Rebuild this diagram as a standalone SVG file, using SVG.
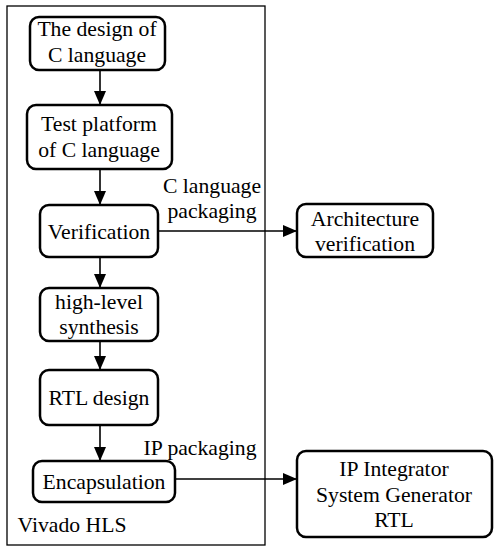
<svg xmlns="http://www.w3.org/2000/svg" width="497" height="550" viewBox="0 0 497 550">
<style>
.n{fill:#fff;stroke:#000;stroke-width:2.5}
text{font-family:'Liberation Serif','Times New Roman','DejaVu Serif',serif;font-size:21.7px;fill:#000;text-anchor:middle}
.c{fill:none;stroke:#000;stroke-width:1.6}
</style>
<defs>
<marker id="ah" markerWidth="14" markerHeight="12" refX="14" refY="6" orient="auto" markerUnits="userSpaceOnUse">
<path d="M0,0 L14,6 L0,12 Z" fill="#000"/>
</marker>
</defs>
<rect width="497" height="550" fill="#fff"/>
<g id="container">
<rect x="7" y="6" width="258" height="539" fill="none" stroke="#000" stroke-width="1.3"/>
<text x="72" y="532">Vivado HLS</text>
</g>
<g id="connectors">
<line class="c" x1="100" y1="70" x2="100" y2="105" marker-end="url(#ah)"/>
<line class="c" x1="100" y1="169" x2="100" y2="205" marker-end="url(#ah)"/>
<line class="c" x1="100" y1="257" x2="100" y2="288" marker-end="url(#ah)"/>
<line class="c" x1="100" y1="341" x2="100" y2="370" marker-end="url(#ah)"/>
<line class="c" x1="100" y1="425" x2="100" y2="461" marker-end="url(#ah)"/>
<line class="c" x1="158" y1="231" x2="297" y2="231" marker-end="url(#ah)"/>
<line class="c" x1="175" y1="479" x2="297" y2="479" marker-end="url(#ah)"/>
<text x="212" y="193">C language</text>
<text x="212" y="218">packaging</text>
<text x="200" y="455">IP packaging</text>
</g>
<g id="n1">
<rect class="n" x="30" y="17" width="135" height="53" rx="9"/>
<text x="97" y="36">The design of</text>
<text x="97" y="62">C language</text>
</g>
<g id="n2">
<rect class="n" x="27" y="105" width="145" height="64" rx="9"/>
<text x="99" y="131">Test platform</text>
<text x="99" y="157">of C language</text>
</g>
<g id="n3">
<rect class="n" x="40" y="205" width="118" height="52" rx="9"/>
<text x="99" y="239">Verification</text>
</g>
<g id="n4">
<rect class="n" x="40" y="288" width="118" height="53" rx="9"/>
<text x="99" y="309">high-level</text>
<text x="99" y="334">synthesis</text>
</g>
<g id="n5">
<rect class="n" x="40" y="370" width="118" height="55" rx="9"/>
<text x="99" y="405">RTL design</text>
</g>
<g id="n6">
<rect class="n" x="33" y="461" width="142" height="41" rx="9"/>
<text x="104" y="489">Encapsulation</text>
</g>
<g id="n7">
<rect class="n" x="297" y="204" width="136" height="53" rx="9"/>
<text x="365" y="226">Architecture</text>
<text x="365" y="251">verification</text>
</g>
<g id="n8">
<rect class="n" x="297" y="451" width="195" height="86" rx="9"/>
<text x="394" y="476">IP Integrator</text>
<text x="394" y="502">System Generator</text>
<text x="394" y="527">RTL</text>
</g>
</svg>
